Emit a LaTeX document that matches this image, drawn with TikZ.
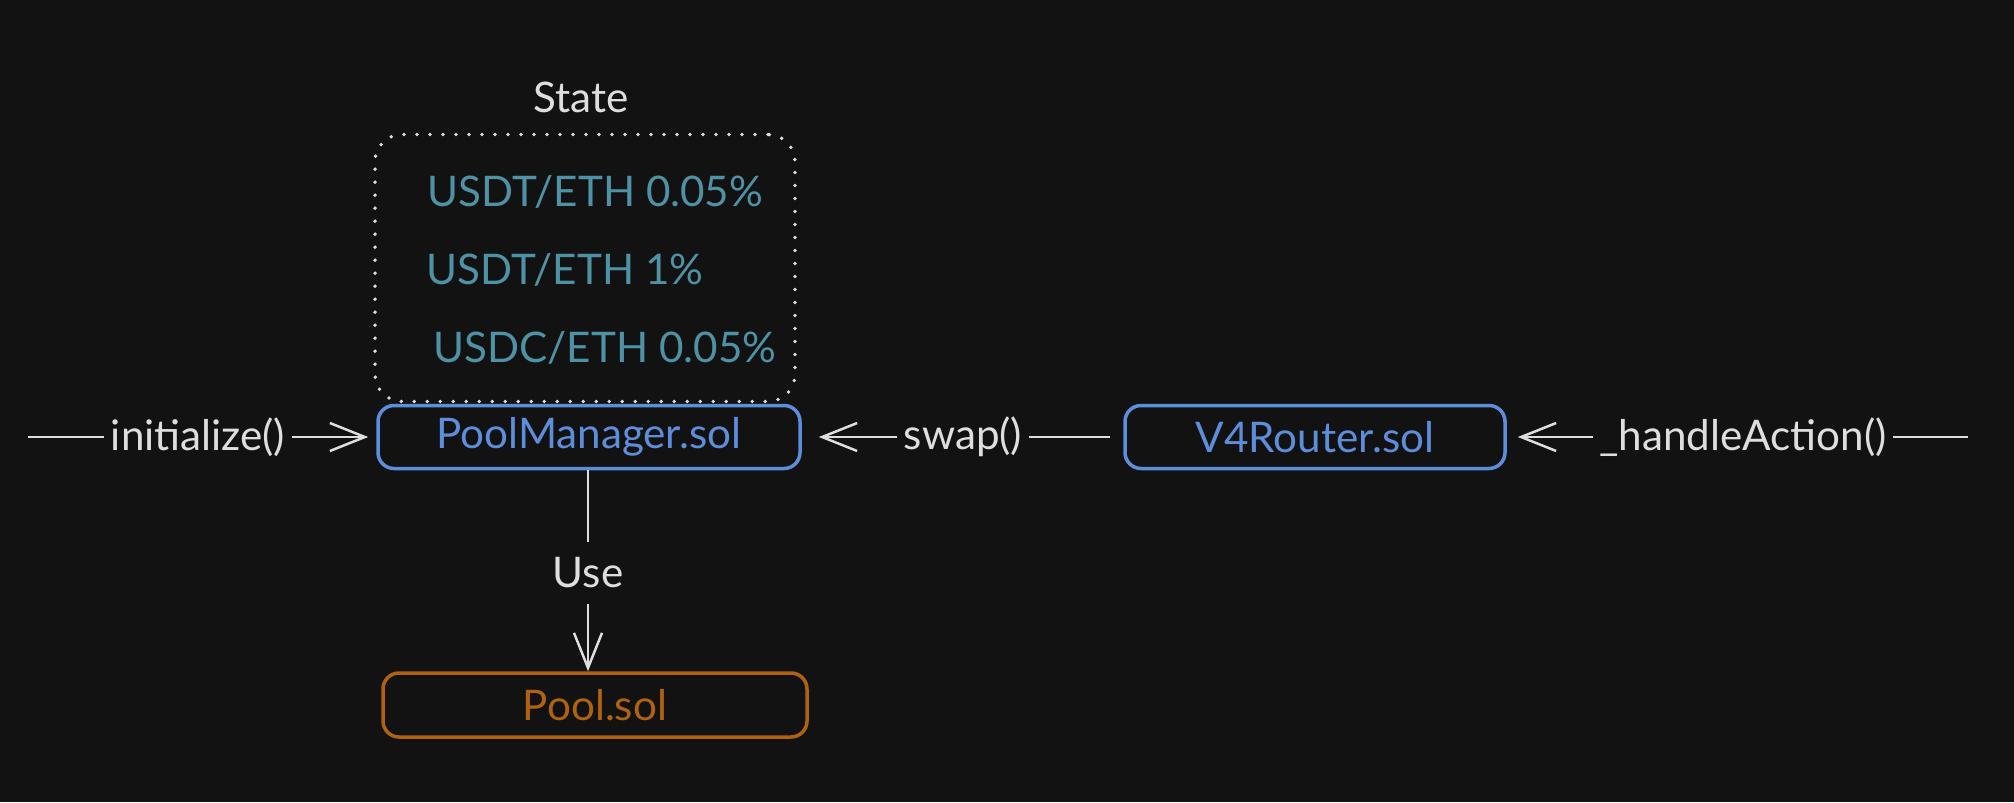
\documentclass[tikz,border=0pt]{standalone}
\usepackage{fontspec}
\setmainfont{Lato}
\usepackage{xcolor}
\usepackage{tikz}
\usetikzlibrary{arrows.meta,positioning}
\definecolor{canvas}{RGB}{18,18,18}
\definecolor{solblue}{RGB}{92,142,220}
\definecolor{pairteal}{RGB}{78,146,166}
\definecolor{poolorange}{RGB}{176,98,14}
\definecolor{inkwhite}{RGB}{222,222,222}

\begin{document}
\begin{tikzpicture}[x=0.1mm, y=-0.1mm,
every node/.style={font=\fontsize{12}{14}\selectfont},
contractnode/.style={rectangle, rounded corners=1.6mm, draw=solblue, line width=0.35mm, text=solblue, minimum width=42.2mm, minimum height=6.3mm, inner sep=0pt},
poolnode/.style={contractnode, draw=poolorange, text=poolorange, minimum width=42.4mm, minimum height=6.4mm},
statebox/.style={rectangle, rounded corners=2.7mm, draw=inkwhite, line width=0.38mm, dash pattern=on 0pt off 1.3mm, line cap=round, minimum width=42mm, minimum height=26.7mm},
pairnode/.style={anchor=west, text=pairteal, inner sep=0pt},
callnode/.style={text=inkwhite, inner sep=0.6mm},
wire/.style={draw=inkwhite, line width=0.25mm},
call/.style={wire, -{Straight Barb[length=3.5mm, width=2.8mm]}},
]
%Canvas
\fill[canvas] (0,0) rectangle (2014,802);
\useasboundingbox (0,0) rectangle (2014,802);

%Nodes
\node[contractnode]   (poolmanager)  at (589,437)  {PoolManager.sol};
\node[contractnode, minimum width=38mm] (router) at (1315,437) {V4Router.sol};
\node[poolnode]       (pool)         at (595,705)  {Pool.sol};

%State
\node[statebox]       (state)        at (585,268)  {};
\node[text=inkwhite]  (statetitle)   at (581,97)   {State};
\node[pairnode]       (pairA)        at (427,192)  {USDT/ETH 0.05\%};
\node[pairnode]       (pairB)        at (426,270)  {USDT/ETH 1\%};
\node[pairnode]       (pairC)        at (433,348)  {USDC/ETH 0.05\%};

%Labels
\coordinate           (initstart)    at (28,437);
\node[callnode]       (initlbl)      at (198,437)  {initialize()};
\node[callnode]       (swaplbl)      at (963,437)  {swap()};
\node[callnode]       (handlelbl)    at (1743,437) {\_handleAction()};
\coordinate           (handlestart)  at (1968,437);
\node[callnode, inner ysep=1.5mm] (uselbl) at (588,573) {Use};

%Lines
\draw[wire] (initstart) -- (initlbl.west);
\draw[call, shorten >=0.8mm] (initlbl.east) -- (poolmanager.west);
\draw[wire, shorten <=1.3mm] (router.west) -- (swaplbl.east);
\draw[call, shorten >=1.7mm] (swaplbl.west) -- (poolmanager.east);
\draw[wire] (handlestart) -- (handlelbl.east);
\draw[call, shorten >=1.1mm] (handlelbl.west) -- (router.east);
\draw[wire] (uselbl.north |- poolmanager.south) -- (uselbl.north);
\draw[call] (uselbl.south) -- (uselbl.south |- pool.north);
\end{tikzpicture}
\end{document}
